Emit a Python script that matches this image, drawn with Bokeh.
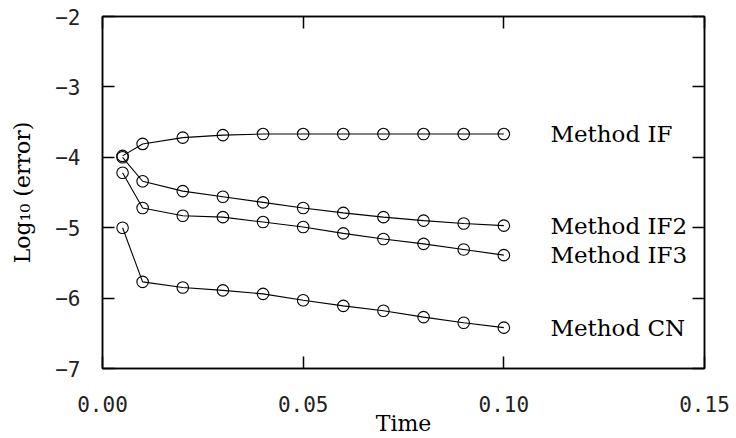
from bokeh.plotting import figure
from bokeh.models import Range1d, FixedTicker, LinearAxis, NumeralTickFormatter, ColumnDataSource
from bokeh.core.properties import value
from bokeh.embed import file_html
from bokeh.resources import INLINE

# ---- data ----
time = [0.005, 0.01, 0.02, 0.03, 0.04, 0.05, 0.06, 0.07, 0.08, 0.09, 0.10]
err_if = [-3.98, -3.81, -3.72, -3.685, -3.67, -3.67, -3.67, -3.67, -3.67, -3.67, -3.67]
err_if2 = [-4.00, -4.34, -4.48, -4.56, -4.64, -4.72, -4.79, -4.85, -4.90, -4.94, -4.97]
err_if3 = [-4.22, -4.72, -4.83, -4.85, -4.92, -4.99, -5.08, -5.16, -5.23, -5.31, -5.39]
err_cn = [-5.00, -5.77, -5.85, -5.89, -5.94, -6.03, -6.11, -6.18, -6.27, -6.35, -6.42]
method_names = ["Method IF", "Method IF2", "Method IF3", "Method CN"]
x_ticks = [0.0, 0.05, 0.10, 0.15]
y_ticks = [-7, -6, -5, -4, -3, -2]

series = [err_if, err_if2, err_if3, err_cn]

p = figure(width=736, height=438, output_backend="svg", toolbar_location=None,
           x_range=Range1d(0, 0.15), y_range=Range1d(-7, -2),
           x_axis_label="Time", y_axis_label="Log\u2081\u2080 (error)",
           min_border_left=102, min_border_right=32, min_border_top=16, min_border_bottom=66)
p.background_fill_color = "white"
p.border_fill_color = "white"
p.grid.visible = False
p.outline_line_color = "black"
p.outline_line_width = 1.5

mono = "DejaVu Sans Mono"
serif = "DejaVu Serif"

for ax in p.xaxis:
    ax.ticker = FixedTicker(ticks=x_ticks)
    ax.formatter = NumeralTickFormatter(format="0.00")
    ax.major_label_standoff = 27
    ax.axis_label_standoff = -4
for ax in p.yaxis:
    ax.ticker = FixedTicker(ticks=y_ticks)
    ax.major_label_standoff = 22
    ax.axis_label_standoff = 17

for ax in list(p.xaxis) + list(p.yaxis):
    ax.major_tick_in = 12
    ax.major_tick_out = 0
    ax.minor_tick_line_color = None
    ax.major_tick_line_color = "black"
    ax.major_tick_line_width = 1.5
    ax.axis_line_color = "black"
    ax.axis_line_width = 1.5
    ax.major_label_text_font = mono
    ax.major_label_text_font_size = "21px"
    ax.major_label_text_color = "#222222"
    ax.axis_label_text_font = serif
    ax.axis_label_text_font_style = "normal"
    ax.axis_label_text_font_size = "22px"
    ax.axis_label_text_color = "black"


def frame_axis(ticks):
    return LinearAxis(ticker=FixedTicker(ticks=ticks), major_label_text_font_size="1px",
                      major_label_text_color=None, major_label_standoff=0,
                      major_tick_in=12, major_tick_out=0, minor_tick_line_color=None,
                      axis_line_color="black", axis_line_width=1.5, major_tick_line_width=1.5)


p.add_layout(frame_axis(x_ticks), "above")
p.add_layout(frame_axis(y_ticks), "right")

for ys in series:
    src = ColumnDataSource(dict(x=time, y=ys))
    p.line("x", "y", source=src, line_color="black", line_width=1.1)
    p.scatter("x", "y", source=src, marker="circle", size=11.5, fill_color=None,
              line_color="black", line_width=1.1)

label_x = [time[-1] + 0.0116] * len(series)
label_y = [s[-1] for s in series]
p.text(x=label_x, y=label_y, text=method_names, text_font=value(serif),
       text_font_size="23px", text_baseline="middle", text_align="left", text_color="black")

open("out.html", "w").write(file_html(p, INLINE))
